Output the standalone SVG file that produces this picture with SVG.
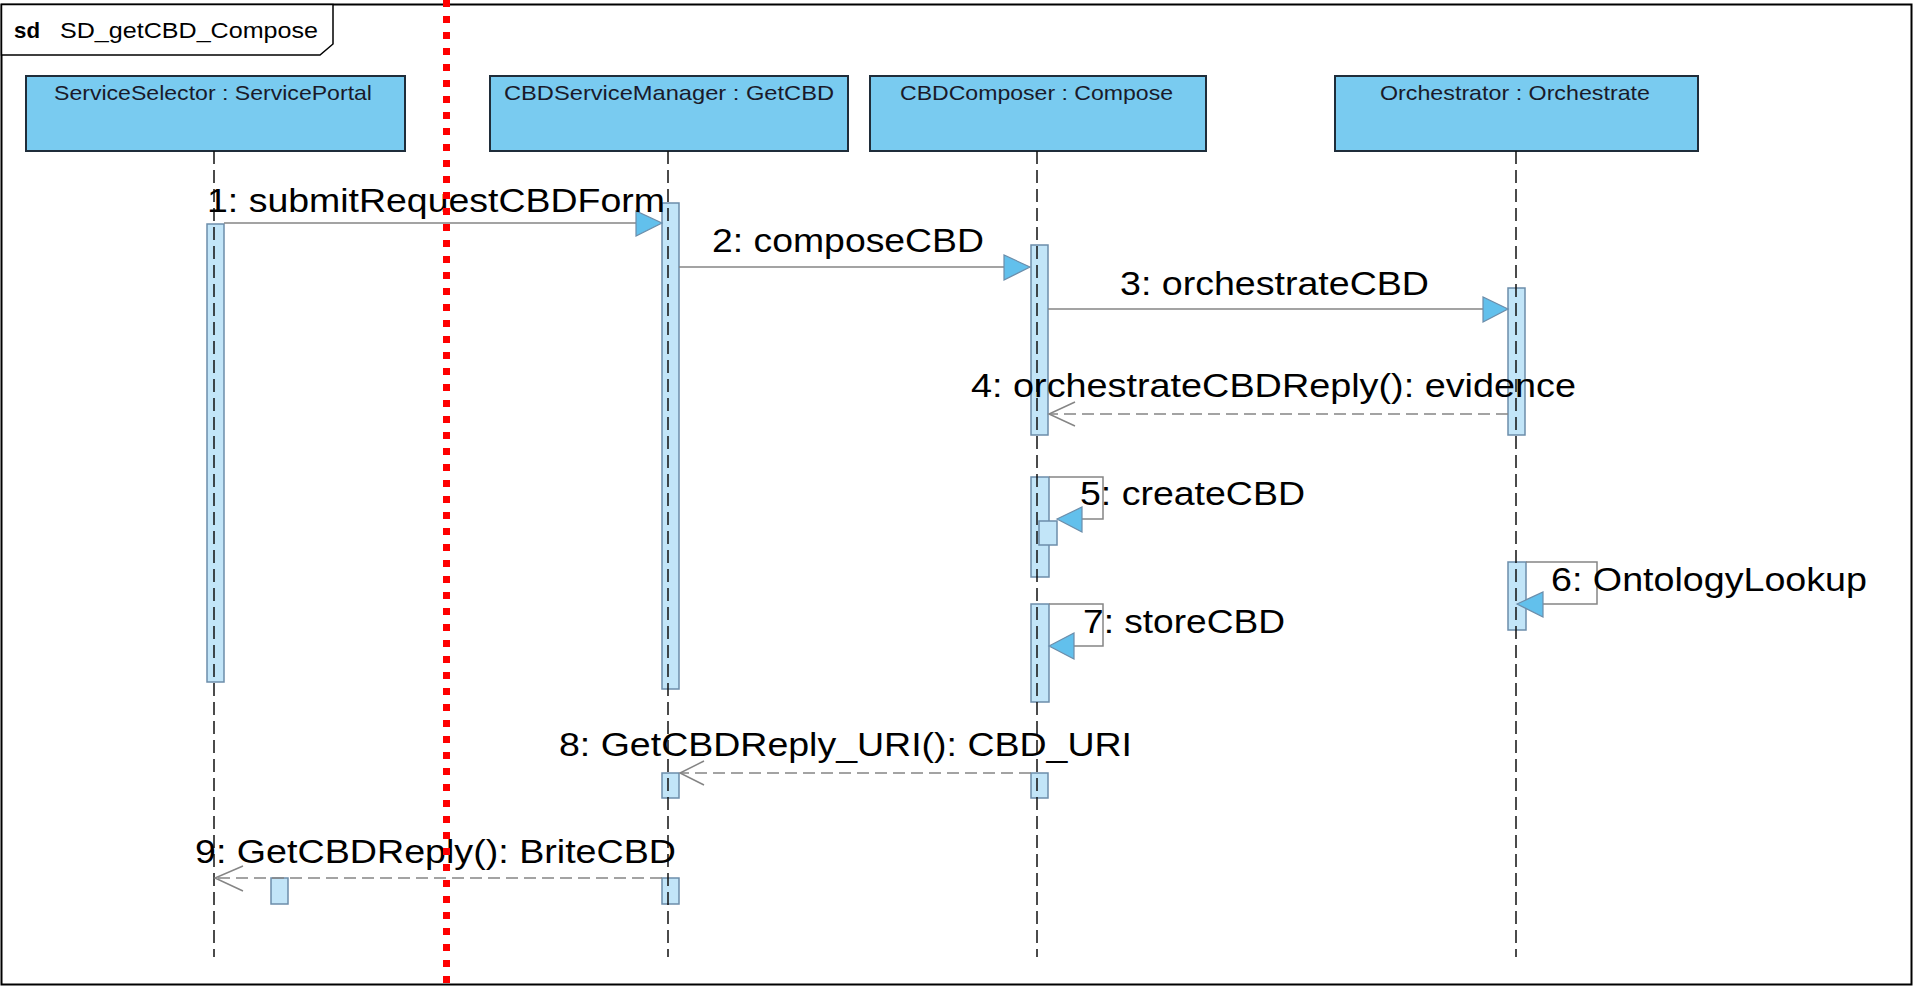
<svg xmlns="http://www.w3.org/2000/svg" width="1914" height="988" viewBox="0 0 1914 988">
<defs>
<style>
.frame{fill:#fff;stroke:#000;stroke-width:2}
.tab{fill:#fff;stroke:#000;stroke-width:1.5}
.box{fill:#79CBF0;stroke:#1F2D3A;stroke-width:2}
.bar{fill:#C2E5F8;stroke:#6C8DAA;stroke-width:1.5}
.life{stroke:#111;stroke-width:1.5;stroke-dasharray:13 6;fill:none}
.msg{stroke:#858585;stroke-width:1.5;fill:none}
.ret{stroke:#858585;stroke-width:1.5;fill:none;stroke-dasharray:12 6}
.tri{fill:#62C0EC;stroke:#6C8DAA;stroke-width:1.2}
.open{stroke:#858585;stroke-width:1.5;fill:none}
.lbl{font-family:"Liberation Sans",Arial,sans-serif;font-size:33px;fill:#000}
.blbl{font-family:"Liberation Sans",Arial,sans-serif;font-size:21px;fill:#1a1a2a}
.ttl{font-family:"Liberation Sans",Arial,sans-serif;font-size:22px;fill:#000}
</style>
</defs>
<rect x="0" y="0" width="1914" height="988" fill="#fff"/>
<g id="frame">
<rect class="frame" x="1.5" y="4.5" width="1910" height="980"/>
<path class="tab" d="M1.5,4.5 H333 V44 L320,55 H1.5 Z"/>
<text class="ttl" x="14" y="38" font-weight="bold" textLength="26" lengthAdjust="spacingAndGlyphs">sd</text>
<text class="ttl" x="60" y="38" textLength="258" lengthAdjust="spacingAndGlyphs">SD_getCBD_Compose</text>
</g>
<g id="lifeline-serviceselector">
<rect class="box" x="26" y="76" width="379" height="75"/>
<text class="blbl" x="54" y="100" textLength="318" lengthAdjust="spacingAndGlyphs">ServiceSelector : ServicePortal</text>
<rect class="bar" x="207" y="224" width="17" height="458"/>
<rect class="bar" x="271" y="878" width="17" height="26"/>
<line class="life" x1="214" y1="151" x2="214" y2="957"/>
</g>
<g id="lifeline-cbdservicemanager">
<rect class="box" x="490" y="76" width="358" height="75"/>
<text class="blbl" x="504" y="100" textLength="330" lengthAdjust="spacingAndGlyphs">CBDServiceManager : GetCBD</text>
<rect class="bar" x="662" y="203" width="17" height="486"/>
<rect class="bar" x="662" y="773" width="17" height="25"/>
<rect class="bar" x="662" y="878" width="17" height="26"/>
<line class="life" x1="668" y1="151" x2="668" y2="957"/>
</g>
<g id="lifeline-cbdcomposer">
<rect class="box" x="870" y="76" width="336" height="75"/>
<text class="blbl" x="900" y="100" textLength="273" lengthAdjust="spacingAndGlyphs">CBDComposer : Compose</text>
<rect class="bar" x="1031" y="245" width="17" height="190"/>
<rect class="bar" x="1031" y="477" width="18" height="100"/>
<rect class="bar" x="1039" y="521" width="18" height="24"/>
<rect class="bar" x="1031" y="604" width="18" height="98"/>
<rect class="bar" x="1031" y="773" width="17" height="25"/>
<line class="life" x1="1037" y1="151" x2="1037" y2="957"/>
</g>
<g id="lifeline-orchestrator">
<rect class="box" x="1335" y="76" width="363" height="75"/>
<text class="blbl" x="1380" y="100" textLength="270" lengthAdjust="spacingAndGlyphs">Orchestrator : Orchestrate</text>
<rect class="bar" x="1508" y="288" width="17" height="147"/>
<rect class="bar" x="1508" y="562" width="18" height="68"/>
<line class="life" x1="1516" y1="151" x2="1516" y2="957"/>
</g>
<g id="connectors">
<line class="msg" x1="224" y1="223" x2="637" y2="223"/>
<polygon class="tri" points="662,223 636,211 636,236"/>
<text class="lbl" x="207" y="212" textLength="458" lengthAdjust="spacingAndGlyphs">1: submitRequestCBDForm</text>

<line class="msg" x1="679" y1="267" x2="1005" y2="267"/>
<polygon class="tri" points="1030,267 1004,255 1004,280"/>
<text class="lbl" x="712" y="252" textLength="272" lengthAdjust="spacingAndGlyphs">2: composeCBD</text>

<line class="msg" x1="1048" y1="309" x2="1484" y2="309"/>
<polygon class="tri" points="1508,309 1483,297 1483,322"/>
<text class="lbl" x="1120" y="295" textLength="309" lengthAdjust="spacingAndGlyphs">3: orchestrateCBD</text>

<line class="ret" x1="1508" y1="414" x2="1049" y2="414"/>
<polyline class="open" points="1075,402 1049,414 1075,426"/>
<text class="lbl" x="971" y="397" textLength="605" lengthAdjust="spacingAndGlyphs">4: orchestrateCBDReply(): evidence</text>

<polyline class="msg" points="1049,477 1103,477 1103,519 1082,519"/>
<polygon class="tri" points="1057,519 1082,507 1082,532"/>
<text class="lbl" x="1080" y="505" textLength="225" lengthAdjust="spacingAndGlyphs">5: createCBD</text>

<polyline class="msg" points="1526,562 1597,562 1597,604 1543,604"/>
<polygon class="tri" points="1517,604 1543,592 1543,617"/>
<text class="lbl" x="1551" y="591" textLength="316" lengthAdjust="spacingAndGlyphs">6: OntologyLookup</text>

<polyline class="msg" points="1049,604 1103,604 1103,646 1074,646"/>
<polygon class="tri" points="1049,646 1074,633 1074,659"/>
<text class="lbl" x="1083" y="633" textLength="202" lengthAdjust="spacingAndGlyphs">7: storeCBD</text>

<line class="ret" x1="1031" y1="773" x2="680" y2="773"/>
<polyline class="open" points="704,761 680,773 704,785"/>
<text class="lbl" x="559" y="756" textLength="573" lengthAdjust="spacingAndGlyphs">8: GetCBDReply_URI(): CBD_URI</text>

<line class="ret" x1="662" y1="878" x2="215" y2="878"/>
<polyline class="open" points="243,866 215,878 243,891"/>
<text class="lbl" x="195" y="863" textLength="481" lengthAdjust="spacingAndGlyphs">9: GetCBDReply(): BriteCBD</text>
</g>
<line x1="446.5" y1="0" x2="446.5" y2="985" stroke="#FF0000" stroke-width="7" stroke-dasharray="7 9"/>
</svg>
